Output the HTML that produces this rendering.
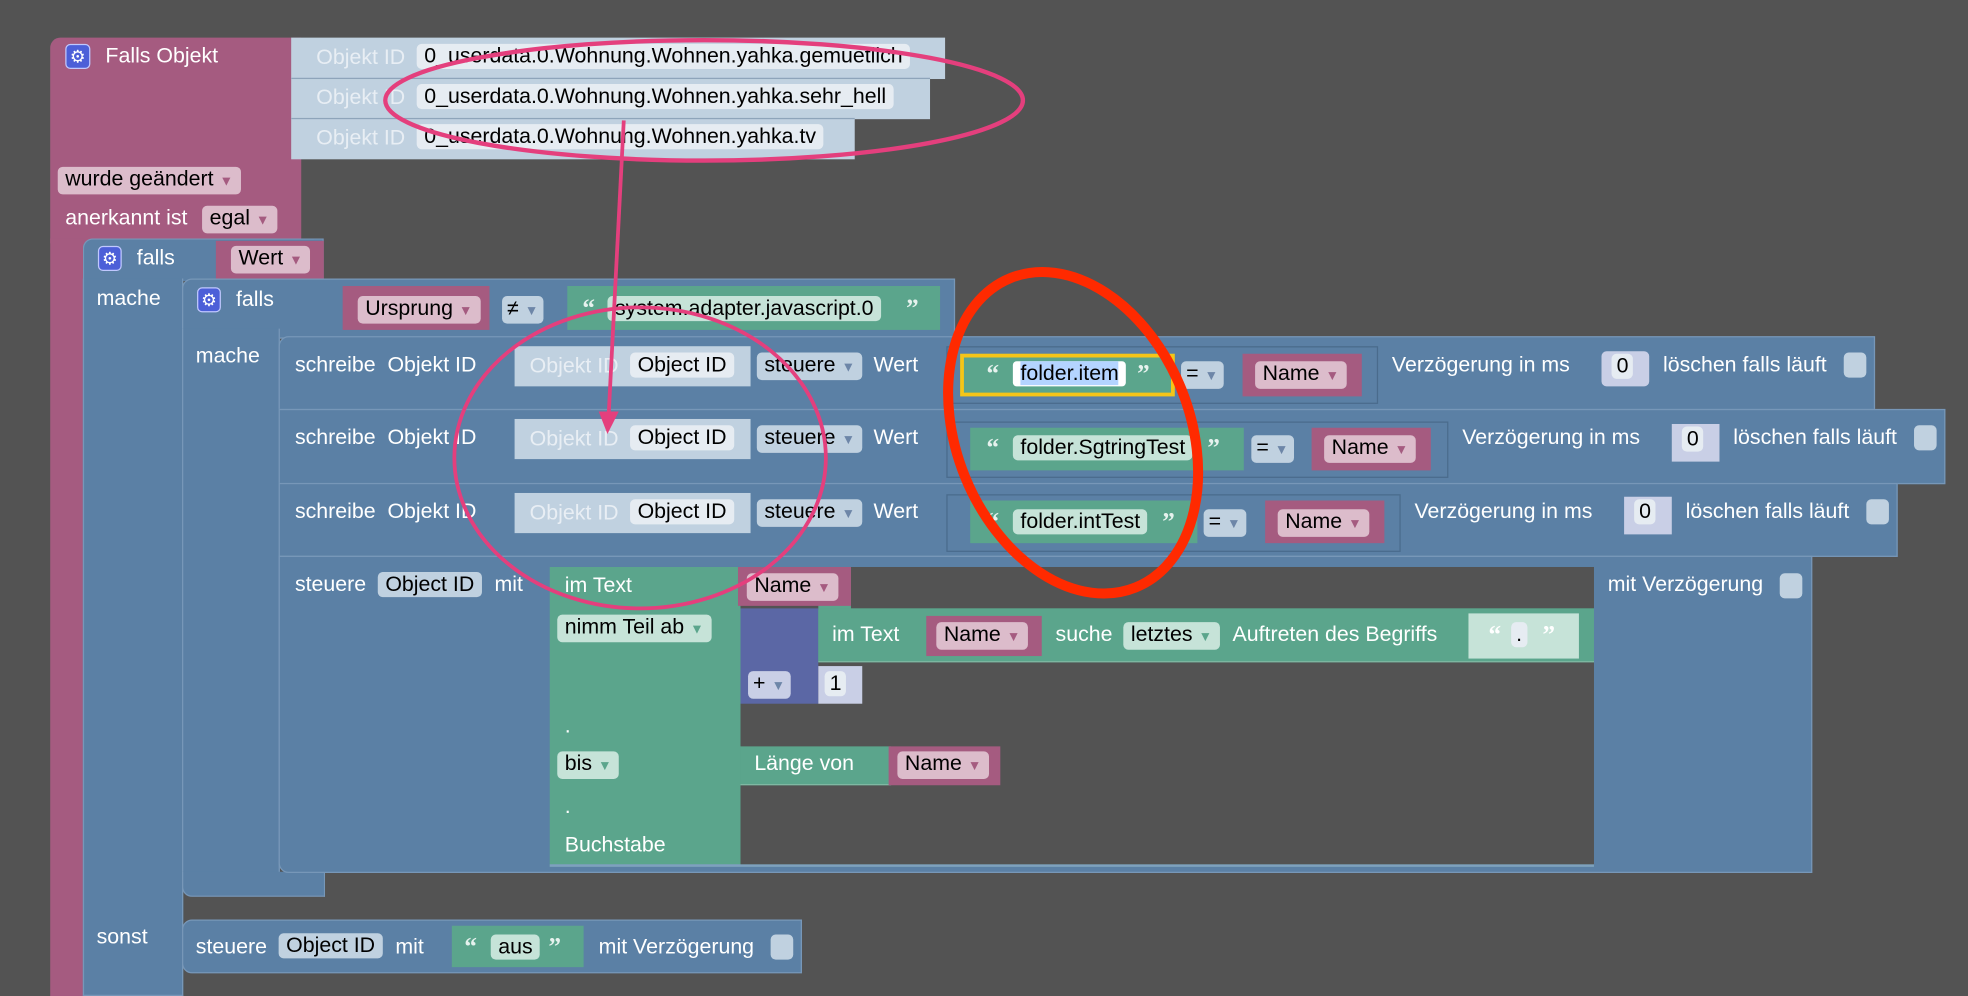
<!DOCTYPE html>
<html><head><meta charset="utf-8"><style>
html,body{margin:0;padding:0;background:#535353;width:1968px;height:996px;overflow:hidden}
#c{position:absolute;left:0;top:0;width:1568px;height:794px;transform:scale(1.2551,1.2544);transform-origin:0 0;font-family:"Liberation Sans",sans-serif;font-size:17px}
#c div{position:absolute;box-sizing:border-box}
.pk{background:#a55b80}
.bl{background:#5b80a5;border:1px solid #7797b8}
.gr{background:#5ba58c}
.lb{background:#c0d1e0}
.pu{background:#5b67a5}
.t{color:#fff;white-space:nowrap;line-height:20px}
.tl{color:#e8eef4;white-space:nowrap;line-height:20px}
.f{background:#e6ecf2;color:#000;border-radius:4px;white-space:nowrap;line-height:20px;padding:0 6px}
.fp{background:#dcbccb;color:#000;border-radius:4px;white-space:nowrap;line-height:20px;padding:0 6px}
.fg{background:#c6e3d8;color:#000;border-radius:4px;white-space:nowrap;line-height:20px;padding:0 6px}
.fb{background:#c0d1e0;color:#000;border-radius:4px;white-space:nowrap;line-height:20px;padding:0 6px}
.fb2{background:#c9cfe6;color:#000;border-radius:4px;white-space:nowrap;line-height:20px;padding:0 6px}
.dk{background:#535353}
.cb{background:#c0d1e0;border-radius:4px;width:18px;height:20px}
.a{font-size:11px;color:#6d86a8}
.ap{font-size:11px;color:#a55b80}
.ag{font-size:11px;color:#5ba58c}
.q{color:#e6f2ee;font-weight:bold;font-size:20px;line-height:20px;font-family:"Liberation Serif",serif}
</style></head><body><div id="c">
<!-- main pink block -->
<div class="pk" style="left:40px;top:30px;width:200px;height:164px;border-radius:8px 0 0 0"></div>
<div class="pk" style="left:40px;top:190px;width:27px;height:604px"></div>
<div style="left:52px;top:35px;width:20px;height:20px;background:#4c5fd8;border-radius:4px;border:1px solid #c0c8ff;color:#fff;font-size:14px;text-align:center;line-height:18px">⚙</div>
<div class="t" style="left:84px;top:35px">Falls Objekt</div>
<div class="lb" style="left:232px;top:30px;width:521px;height:33px"></div>
<div class="lb" style="left:232px;top:62px;width:509px;height:33px;border-top:1px solid #8ea4ba"></div>
<div class="lb" style="left:232px;top:94px;width:449px;height:33px;border-top:1px solid #8ea4ba"></div>
<div class="tl" style="left:252px;top:36px">Objekt ID</div><div class="f" style="left:332px;top:35px">0_userdata.0.Wohnung.Wohnen.yahka.gemuetlich</div>
<div class="tl" style="left:252px;top:68px">Objekt ID</div><div class="f" style="left:332px;top:67px">0_userdata.0.Wohnung.Wohnen.yahka.sehr_hell</div>
<div class="tl" style="left:252px;top:100px">Objekt ID</div><div class="f" style="left:332px;top:99px">0_userdata.0.Wohnung.Wohnen.yahka.tv</div>
<div class="fp" style="left:46px;top:133px">wurde geändert <span class="ap">▼</span></div>
<div class="t" style="left:52px;top:164px">anerkannt ist</div>
<div class="fp" style="left:161px;top:164px">egal <span class="ap">▼</span></div>
<!-- outer falls -->
<div class="bl" style="left:66px;top:190px;width:192px;height:34px;border-radius:8px 0 0 0;border-bottom:none"></div>
<div class="bl" style="left:66px;top:222px;width:80px;height:572px;border-top:none"></div>
<div class="pk" style="left:172px;top:192px;width:86px;height:31px"></div>
<div class="fp" style="left:184px;top:196px">Wert <span class="ap">▼</span></div>
<div style="left:78px;top:196px;width:19px;height:20px;background:#4c5fd8;border-radius:4px;border:1px solid #c0c8ff;color:#fff;font-size:14px;text-align:center;line-height:18px">⚙</div>
<div class="t" style="left:109px;top:196px">falls</div>
<div class="t" style="left:77px;top:228px">mache</div>
<div class="t" style="left:77px;top:737px">sonst</div>
<!-- inner falls -->
<div class="bl" style="left:145px;top:222px;width:616px;height:48px;border-radius:8px 0 0 0"></div>
<div class="bl" style="left:145px;top:262px;width:78px;height:440px;border-top:none;border-bottom:none"></div>
<div class="bl" style="left:145px;top:695px;width:114px;height:20px;border-top:none;border-radius:0 0 0 8px"></div>
<div style="left:157px;top:229px;width:19px;height:20px;background:#4c5fd8;border-radius:4px;border:1px solid #c0c8ff;color:#fff;font-size:14px;text-align:center;line-height:18px">⚙</div>
<div class="t" style="left:188px;top:229px">falls</div>
<div class="t" style="left:156px;top:274px">mache</div>
<div class="pk" style="left:273px;top:228px;width:117px;height:35px"></div>
<div class="fp" style="left:285px;top:236px">Ursprung <span class="ap">▼</span></div>
<div class="fb" style="left:400px;top:236px;padding:0 4px">≠ <span class="a">▼</span></div>
<div class="gr" style="left:452px;top:228px;width:297px;height:35px"></div>
<div class="q" style="left:464px;top:236px">“</div>
<div class="fg" style="left:484px;top:236px">system.adapter.javascript.0</div>
<div class="q" style="left:722px;top:236px">”</div>
<!-- schreibe rows -->
<div class="bl" style="left:222px;top:268px;width:1272px;height:59px;border-radius:8px 0 0 0"></div>
<div class="bl" style="left:222px;top:326px;width:1328px;height:60px"></div>
<div class="bl" style="left:222px;top:385px;width:1290px;height:59px"></div>
<!-- row 1 -->
<div class="t" style="left:235px;top:281px">schreibe &nbsp;Objekt ID</div>
<div class="lb" style="left:410px;top:276px;width:188px;height:32px"></div>
<div class="tl" style="left:422px;top:282px">Objekt ID</div><div class="f" style="left:502px;top:281px">Object ID</div>
<div class="fb" style="left:603px;top:281px">steuere <span class="a">▼</span></div>
<div class="t" style="left:696px;top:281px">Wert</div>
<div class="bl" style="left:754px;top:276px;width:344px;height:46px;border-color:#4a6b8c"></div>
<div class="gr" style="left:765px;top:282px;width:171px;height:34px;border:3px solid #f5c518"></div>
<div class="q" style="left:786px;top:288px">“</div>
<div style="left:807px;top:288px;background:#fff;line-height:20px;padding:0 6px;border-radius:3px;white-space:nowrap"><span style="background:#b4d4ff">folder.item</span></div>
<div class="q" style="left:906px;top:288px">”</div>
<div class="fb" style="left:941px;top:288px;padding:0 4px">= <span class="a">▼</span></div>
<div class="pk" style="left:990px;top:282px;width:95px;height:34px"></div>
<div class="fp" style="left:1000px;top:288px">Name <span class="ap">▼</span></div>
<div class="t" style="left:1109px;top:281px">Verzögerung in ms</div>
<div class="fb2" style="left:1276px;top:280px;width:38px;height:28px;background:#c9cfe6"></div>
<div class="f" style="left:1284px;top:282px;padding:0 4px">0</div>
<div class="t" style="left:1325px;top:281px">löschen falls läuft</div>
<div class="cb" style="left:1469px;top:281px"></div>
<!-- row 2 -->
<div class="t" style="left:235px;top:339px">schreibe &nbsp;Objekt ID</div>
<div class="lb" style="left:410px;top:334px;width:188px;height:32px"></div>
<div class="tl" style="left:422px;top:340px">Objekt ID</div><div class="f" style="left:502px;top:339px">Object ID</div>
<div class="fb" style="left:603px;top:339px">steuere <span class="a">▼</span></div>
<div class="t" style="left:696px;top:339px">Wert</div>
<div class="bl" style="left:754px;top:336px;width:400px;height:45px;border-color:#4a6b8c"></div>
<div class="gr" style="left:773px;top:341px;width:218px;height:34px"></div>
<div class="q" style="left:786px;top:347px">“</div>
<div class="fg" style="left:807px;top:347px">folder.SgtringTest</div>
<div class="q" style="left:962px;top:347px">”</div>
<div class="fb" style="left:997px;top:347px;padding:0 4px">= <span class="a">▼</span></div>
<div class="pk" style="left:1045px;top:341px;width:95px;height:34px"></div>
<div class="fp" style="left:1055px;top:347px">Name <span class="ap">▼</span></div>
<div class="t" style="left:1165px;top:339px">Verzögerung in ms</div>
<div style="left:1332px;top:338px;width:38px;height:30px;background:#c9cfe6"></div>
<div class="f" style="left:1340px;top:340px;padding:0 4px">0</div>
<div class="t" style="left:1381px;top:339px">löschen falls läuft</div>
<div class="cb" style="left:1525px;top:339px"></div>
<!-- row 3 -->
<div class="t" style="left:235px;top:398px">schreibe &nbsp;Objekt ID</div>
<div class="lb" style="left:410px;top:393px;width:188px;height:32px"></div>
<div class="tl" style="left:422px;top:399px">Objekt ID</div><div class="f" style="left:502px;top:398px">Object ID</div>
<div class="fb" style="left:603px;top:398px">steuere <span class="a">▼</span></div>
<div class="t" style="left:696px;top:398px">Wert</div>
<div class="bl" style="left:754px;top:394px;width:362px;height:46px;border-color:#4a6b8c"></div>
<div class="gr" style="left:773px;top:399px;width:181px;height:34px"></div>
<div class="q" style="left:786px;top:406px">“</div>
<div class="fg" style="left:807px;top:406px">folder.intTest</div>
<div class="q" style="left:926px;top:406px">”</div>
<div class="fb" style="left:959px;top:406px;padding:0 4px">= <span class="a">▼</span></div>
<div class="pk" style="left:1008px;top:399px;width:95px;height:34px"></div>
<div class="fp" style="left:1018px;top:406px">Name <span class="ap">▼</span></div>
<div class="t" style="left:1127px;top:398px">Verzögerung in ms</div>
<div style="left:1294px;top:396px;width:38px;height:30px;background:#c9cfe6"></div>
<div class="f" style="left:1302px;top:398px;padding:0 4px">0</div>
<div class="t" style="left:1343px;top:398px">löschen falls läuft</div>
<div class="cb" style="left:1487px;top:398px"></div>
<!-- steuere block -->
<div class="bl" style="left:222px;top:443px;width:1222px;height:253px;border-radius:0 0 0 8px"></div>
<div class="t" style="left:235px;top:456px">steuere</div>
<div class="fb" style="left:301px;top:456px">Object ID</div>
<div class="t" style="left:394px;top:456px">mit</div>
<div class="t" style="left:1281px;top:456px">mit Verzögerung</div>
<div class="cb" style="left:1418px;top:457px"></div>
<div class="gr" style="left:438px;top:452px;width:832px;height:239px;border-bottom:2px solid #7fa0c0"></div>
<div class="dk" style="left:678px;top:452px;width:592px;height:33px"></div>
<div class="dk" style="left:590px;top:527px;width:680px;height:162px"></div>
<div class="dk" style="left:590px;top:478px;width:62px;height:8px"></div>
<div class="t" style="left:450px;top:457px">im Text</div>
<div class="pk" style="left:588px;top:452px;width:90px;height:31px"></div>
<div class="fp" style="left:595px;top:457px">Name <span class="ap">▼</span></div>
<div class="fg" style="left:444px;top:490px">nimm Teil ab <span class="ag">▼</span></div>
<div class="pu" style="left:590px;top:485px;width:62px;height:76px"></div>
<div class="gr" style="left:652px;top:485px;width:618px;height:43px;border-bottom:1px solid #7fb8a2"></div>
<div class="t" style="left:663px;top:496px">im Text</div>
<div class="pk" style="left:738px;top:491px;width:92px;height:32px"></div>
<div class="fp" style="left:746px;top:496px">Name <span class="ap">▼</span></div>
<div class="t" style="left:841px;top:496px">suche</div>
<div class="fg" style="left:895px;top:496px">letztes <span class="ag">▼</span></div>
<div class="t" style="left:982px;top:496px">Auftreten des Begriffs</div>
<div style="left:1170px;top:489px;width:88px;height:36px;background:#c6e3d8"></div>
<div class="q" style="left:1186px;top:496px;color:#fff">“</div>
<div class="f" style="left:1204px;top:496px;padding:0 4px">.</div>
<div class="q" style="left:1229px;top:496px;color:#fff">”</div>
<div class="fb2" style="left:596px;top:535px;padding:0 4px">+ <span class="a">▼</span></div>
<div style="left:652px;top:531px;width:35px;height:30px;background:#c9cfe6"></div>
<div class="f" style="left:657px;top:535px;padding:0 4px">1</div>
<div class="t" style="left:450px;top:569px">.</div>
<div class="fg" style="left:444px;top:599px">bis <span class="ag">▼</span></div>
<div class="gr" style="left:590px;top:595px;width:120px;height:31px;border-bottom:1px solid #7fb8a2"></div>
<div class="t" style="left:601px;top:599px">Länge von</div>
<div class="pk" style="left:708px;top:595px;width:89px;height:31px"></div>
<div class="fp" style="left:715px;top:599px">Name <span class="ap">▼</span></div>
<div class="t" style="left:450px;top:633px">.</div>
<div class="t" style="left:450px;top:664px">Buchstabe</div>
<!-- sonst part -->
<div class="bl" style="left:145px;top:733px;width:494px;height:43px;border-radius:8px 0 0 8px"></div>
<div class="t" style="left:156px;top:745px">steuere</div>
<div class="fb" style="left:222px;top:744px">Object ID</div>
<div class="t" style="left:315px;top:745px">mit</div>
<div class="gr" style="left:360px;top:738px;width:105px;height:33px"></div>
<div class="q" style="left:370px;top:745px">“</div>
<div class="fg" style="left:391px;top:745px">aus</div>
<div class="q" style="left:437px;top:745px">”</div>
<div class="t" style="left:477px;top:745px">mit Verzögerung</div>
<div class="cb" style="left:614px;top:745px"></div>
<!-- annotations -->
<svg style="position:absolute;left:0;top:0" width="1568" height="794">
<ellipse cx="561" cy="80" rx="254" ry="48" fill="none" stroke="#e43f7d" stroke-width="3.5"/>
<ellipse cx="510" cy="365" rx="148" ry="120" fill="none" stroke="#e43f7d" stroke-width="3"/>
<line x1="497" y1="96" x2="485" y2="330" stroke="#e43f7d" stroke-width="3"/>
<polygon points="477,328 493,328 484,346" fill="#e43f7d"/>
<ellipse cx="855" cy="345" rx="93" ry="133" transform="rotate(-22 855 345)" fill="none" stroke="#ff2a00" stroke-width="8"/>
</svg>
</div></body></html>
